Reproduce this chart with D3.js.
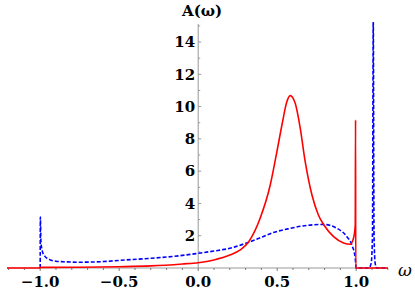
<!DOCTYPE html>
<html>
<head>
<meta charset="utf-8">
<script src="https://cdn.jsdelivr.net/npm/d3@7"></script>
<style>
  body { margin: 0; background: #fff; }
  svg { display: block; }
</style>
</head>
<body>
<div id="viz"></div>
<script>
const width = 415;
const height = 290;
const serif = "'DejaVu Serif', 'Liberation Serif', 'Times New Roman', serif";

// red solid curve: omega / A(omega)
const redOmega = [-1.21, -1.0, -0.999, -0.75, -0.5, -0.3, -0.1, 0.0, 0.1, 0.2, 0.266, 0.32, 0.392, 0.456, 0.498, 0.53, 0.561, 0.582, 0.614, 0.646, 0.677, 0.72, 0.76, 0.8, 0.857, 0.92, 0.962, 0.983, 0.994, 0.996, 0.997, 1.2];
const redA     = [0, 0, 0.04, 0.05, 0.08, 0.13, 0.25, 0.33, 0.5, 0.8, 1.12, 1.63, 3.08, 5.14, 7.2, 8.86, 10.3, 10.68, 10.2, 8.65, 6.6, 4.52, 3.3, 2.6, 1.94, 1.55, 1.47, 1.84, 2.66, 9.17, 0, 0];

// blue dashed curve
const blueOmega = [-1.0, -0.999, -0.995, -0.985, -0.97, -0.94, -0.9, -0.84, -0.75, -0.6, -0.5, -0.3, -0.1, 0.0, 0.1, 0.2, 0.32, 0.4, 0.477, 0.58, 0.688, 0.793, 0.878, 0.941, 0.973, 0.994, 1.0, 1.08, 1.095, 1.103, 1.108, 1.113, 1.12, 1.13, 1.2];
const blueA     = [0, 3.15, 1.6, 1.0, 0.72, 0.52, 0.42, 0.38, 0.36, 0.4, 0.47, 0.6, 0.78, 0.91, 1.05, 1.22, 1.6, 1.9, 2.2, 2.45, 2.64, 2.7, 2.46, 1.94, 1.42, 0.6, 0, 0, 0.3, 2.0, 15.3, 2.0, 0.3, 0, 0];

const xTicks = [-1.0, -0.5, 0.0, 0.5, 1.0];
const yTicks = [2, 4, 6, 8, 10, 12, 14];

const svg = d3.select("#viz").append("svg")
  .attr("width", width)
  .attr("height", height);

const x = d3.scaleLinear().domain([-1.21, 1.2]).range([7, 387.8]);
const y = d3.scaleLinear().domain([0, 15]).range([268, 25.9]);

svg.append("clipPath").attr("id", "plotclip")
  .append("rect").attr("x", 0).attr("y", 22).attr("width", width).attr("height", 260);

// y axis (through omega = 0)
const yAxis = svg.append("g").attr("transform", `translate(${x(0)},0)`);
yAxis.append("line")
  .attr("y1", y(0)).attr("y2", 24)
  .attr("stroke", "#999").attr("stroke-width", 1);
yAxis.selectAll(".minor")
  .data(d3.range(1, 16))
  .join("line")
  .attr("x1", 0).attr("x2", d => d % 2 === 0 ? 3 : 2)
  .attr("y1", d => y(d)).attr("y2", d => y(d))
  .attr("stroke", "#999");
yAxis.selectAll("text")
  .data(yTicks)
  .join("text")
  .attr("x", -3)
  .attr("y", d => y(d))
  .attr("dy", "0.35em")
  .attr("text-anchor", "end")
  .style("font-family", serif)
  .style("font-weight", "bold")
  .style("font-size", "15px")
  .text(d => d);

// x axis
const xAxis = svg.append("g").attr("transform", `translate(0,${y(0)})`);
xAxis.append("line")
  .attr("x1", x(-1.21)).attr("x2", x(1.2))
  .attr("stroke", "#999");
xAxis.selectAll(".tk")
  .data(d3.range(-12, 13).map(d => d / 10))
  .join("line")
  .attr("x1", d => x(d)).attr("x2", d => x(d))
  .attr("y1", 0).attr("y2", d => Math.abs(d * 2 - Math.round(d * 2)) < 1e-6 ? 3 : 2)
  .attr("stroke", "#777");
xAxis.selectAll("text")
  .data(xTicks)
  .join("text")
  .attr("x", d => x(d))
  .attr("y", 19)
  .attr("text-anchor", "middle")
  .style("font-family", serif)
  .style("font-weight", "bold")
  .style("font-size", "15px")
  .text(d => d3.format(".1f")(d).replace("-", "\u2212"));

const line = d3.line()
  .x(d => x(d[0]))
  .y(d => y(d[1]))
  .curve(d3.curveMonotoneX);

svg.append("path")
  .attr("clip-path", "url(#plotclip)")
  .attr("d", line(d3.zip(blueOmega, blueA)))
  .attr("fill", "none")
  .attr("stroke", "#0000ff")
  .attr("stroke-width", 1.6)
  .attr("stroke-dasharray", "4,2");

svg.append("path")
  .attr("d", line(d3.zip(redOmega, redA)))
  .attr("fill", "none")
  .attr("stroke", "#ff0000")
  .attr("stroke-width", 1.6);

// axis labels
svg.append("text")
  .attr("x", 182).attr("y", 16)
  .style("font-family", serif)
  .style("font-weight", "bold")
  .style("font-size", "15px")
  .text("A(ω)");

svg.append("text")
  .attr("x", 405).attr("y", 276)
  .attr("text-anchor", "middle")
  .style("font-family", serif)
  .style("font-style", "italic")
  .style("font-size", "17px")
  .text("ω");
</script>
</body>
</html>
